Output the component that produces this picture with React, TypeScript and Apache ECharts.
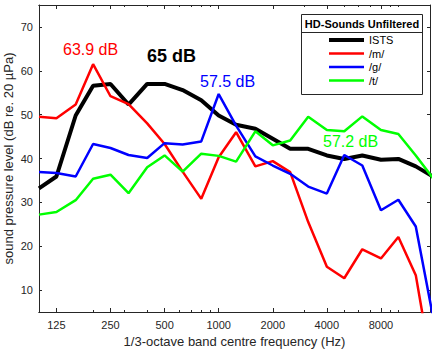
import React, { useEffect, useRef } from "react";
import * as echarts from "echarts";

const frequencies = [100, 125, 160, 200, 250, 315, 400, 500, 630, 800, 1000, 1250, 1600, 2000, 2500, 3150, 4000, 5000, 6300, 8000, 10000, 12500, 16000];
const ists = [33.2, 35.9, 49.8, 56.6, 57.0, 52.3, 57.0, 57.0, 55.6, 53.3, 49.8, 47.7, 46.8, 44.5, 42.2, 42.2, 40.7, 39.9, 40.7, 39.7, 39.9, 38.2, 35.6];
const mSound = [49.5, 49.2, 52.3, 61.5, 54.2, 52.4, 48.0, 43.3, 37.0, 30.8, 40.3, 46.0, 38.2, 39.4, 36.9, 25.5, 15.3, 12.7, 19.3, 17.2, 22.1, 13.4, -12];
const gSound = [36.9, 36.7, 35.9, 43.3, 42.4, 40.8, 40.1, 43.5, 43.2, 43.9, 54.7, 47.5, 40.5, 38.4, 36.5, 33.6, 32.0, 40.8, 38.4, 28.2, 30.6, 24.5, 1.5];
const tSound = [27.2, 27.8, 30.5, 35.4, 36.3, 32.1, 38.0, 40.7, 37.0, 41.1, 40.6, 39.3, 46.2, 43.0, 44.1, 49.5, 46.5, 46.2, 49.6, 46.5, 45.6, 40.7, 34.9];

const xTickLabels = [125, 250, 500, 1000, 2000, 4000, 8000];
const xMinorTicks = [100, 200, 300, 400, 500, 600, 700, 800, 900, 1000, 2000, 3000, 4000, 5000, 6000, 7000, 8000, 9000, 10000];
const yTickLabels = [10, 20, 30, 40, 50, 60, 70];
const seriesNames = ["ISTS", "/m/", "/g/", "/t/"];
const seriesColors = ["#000000", "#ff0000", "#0000ff", "#00ff00"];
const annotations = ["63.9 dB", "65 dB", "57.5 dB", "57.2 dB"];

const FONT = "'Liberation Sans', Arial, sans-serif";
const AX = "#262626";

const toX = (f: number) => 3 * Math.log2(f / 1000);

export default function App() {
  const ref = useRef<HTMLDivElement>(null);
  useEffect(() => {
    if (!ref.current) return;
    const chart = echarts.init(ref.current, undefined, { renderer: "svg" });
    const xMin = toX(100);
    const xMax = toX(15000);
    const baseX = {
      type: "value",
      min: xMin,
      max: xMax,
      splitLine: { show: false },
      axisLine: { show: true, onZero: false, lineStyle: { color: AX, width: 1 } },
    };
    const majorX = xTickLabels.map(toX);
    const minorX = xMinorTicks.map(toX);
    const allData = [ists, mSound, gSound, tSound];
    const option: any = {
      animation: false,
      backgroundColor: "#ffffff",
      textStyle: { fontFamily: FONT },
      grid: { left: 39, right: 6, top: 5, bottom: 43, containLabel: false, outerBoundsMode: "none" },
      xAxis: [
        {
          ...baseX,
          position: "bottom",
          name: "1/3-octave band centre frequency (Hz)",
          nameLocation: "middle",
          nameGap: 23,
          nameMoveOverlap: false,
          nameTextStyle: { fontSize: 13, color: AX, fontFamily: FONT },
          axisTick: { show: true, inside: true, length: 4, customValues: majorX, lineStyle: { color: AX } },
          axisLabel: {
            show: true,
            customValues: majorX,
            fontSize: 11,
            color: AX,
            margin: 7,
            fontFamily: FONT,
            formatter: (v: number) => {
              const f = xTickLabels.find((q) => Math.abs(toX(q) - v) < 1e-6);
              return f === undefined ? "" : String(f);
            },
          },
        },
        {
          ...baseX,
          position: "bottom",
          axisTick: { show: true, inside: true, length: 2, customValues: minorX, lineStyle: { color: AX } },
          axisLabel: { show: false },
        },
        {
          ...baseX,
          position: "top",
          axisTick: { show: true, inside: true, length: 4, customValues: majorX, lineStyle: { color: AX } },
          axisLabel: { show: false },
        },
        {
          ...baseX,
          position: "top",
          axisTick: { show: true, inside: true, length: 2, customValues: minorX, lineStyle: { color: AX } },
          axisLabel: { show: false },
        },
      ],
      yAxis: [
        {
          type: "value",
          min: 5,
          max: 75,
          position: "left",
          name: "sound pressure level (dB re. 20 µPa)",
          nameLocation: "middle",
          nameGap: 24,
          nameMoveOverlap: false,
          nameTextStyle: { fontSize: 13, color: AX, fontFamily: FONT },
          splitLine: { show: false },
          axisLine: { show: true, onZero: false, lineStyle: { color: AX, width: 1 } },
          axisTick: { show: true, inside: true, length: 3, customValues: yTickLabels, lineStyle: { color: AX } },
          axisLabel: { show: true, customValues: yTickLabels, fontSize: 11, color: AX, margin: 6, fontFamily: FONT },
        },
        {
          type: "value",
          min: 5,
          max: 75,
          position: "right",
          splitLine: { show: false },
          axisLine: { show: true, onZero: false, lineStyle: { color: AX, width: 1 } },
          axisTick: { show: true, inside: true, length: 3, customValues: yTickLabels, lineStyle: { color: AX } },
          axisLabel: { show: false },
        },
      ],
      legend: {
        data: seriesNames.map((name, k) => ({
          name,
          icon: k === 0 ? "path://M0,0H35V4H0Z" : "path://M0,0H35V2.6H0Z",
        })),
        orient: "vertical",
        left: 329,
        top: 34.5,
        itemWidth: 35,
        itemHeight: 12,
        itemGap: 2.5,
        padding: 0,
        z: 10,
        textStyle: { fontSize: 11, color: "#000", fontFamily: FONT },
      },
      series: seriesNames.map((name, k) => ({
        type: "line",
        name,
        xAxisIndex: 0,
        yAxisIndex: 0,
        data: frequencies.map((f, i) => [toX(f), allData[k][i]]),
        symbol: "none",
        clip: true,
        lineStyle: { color: seriesColors[k], width: k === 0 ? 4 : 2.5 },
        itemStyle: { color: seriesColors[k] },
      })),
      graphic: [
        {
          type: "rect",
          z: 5,
          shape: { x: 301.5, y: 14.5, width: 121, height: 80 },
          style: { fill: "#ffffff", stroke: AX, lineWidth: 1 },
        },
        {
          type: "line",
          z: 6,
          shape: { x1: 301.5, y1: 32.5, x2: 422.5, y2: 32.5 },
          style: { stroke: AX, lineWidth: 1 },
        },
        {
          type: "text",
          z: 6,
          x: 362,
          y: 23.5,
          style: { text: "HD-Sounds Unfiltered", fill: "#000", fontSize: 11, fontWeight: "bold", fontFamily: FONT, align: "center", verticalAlign: "middle" },
        },
        {
          type: "text",
          z: 6,
          x: 63,
          y: 49,
          style: { text: annotations[0], fill: "#ff0000", fontSize: 16, fontFamily: FONT, align: "left", verticalAlign: "middle" },
        },
        {
          type: "text",
          z: 6,
          x: 147,
          y: 56,
          style: { text: annotations[1], fill: "#000000", fontSize: 18, fontWeight: "bold", fontFamily: FONT, align: "left", verticalAlign: "middle" },
        },
        {
          type: "text",
          z: 6,
          x: 200,
          y: 81,
          style: { text: annotations[2], fill: "#0000ff", fontSize: 16, fontFamily: FONT, align: "left", verticalAlign: "middle" },
        },
        {
          type: "text",
          z: 6,
          x: 323,
          y: 141,
          style: { text: annotations[3], fill: "#00ff00", fontSize: 16, fontFamily: FONT, align: "left", verticalAlign: "middle" },
        },
      ],
    };
    chart.setOption(option);
    return () => chart.dispose();
  }, []);
  return <div ref={ref} style={{ position: "absolute", left: 0, top: 0, width: 436, height: 355 }} />;
}
